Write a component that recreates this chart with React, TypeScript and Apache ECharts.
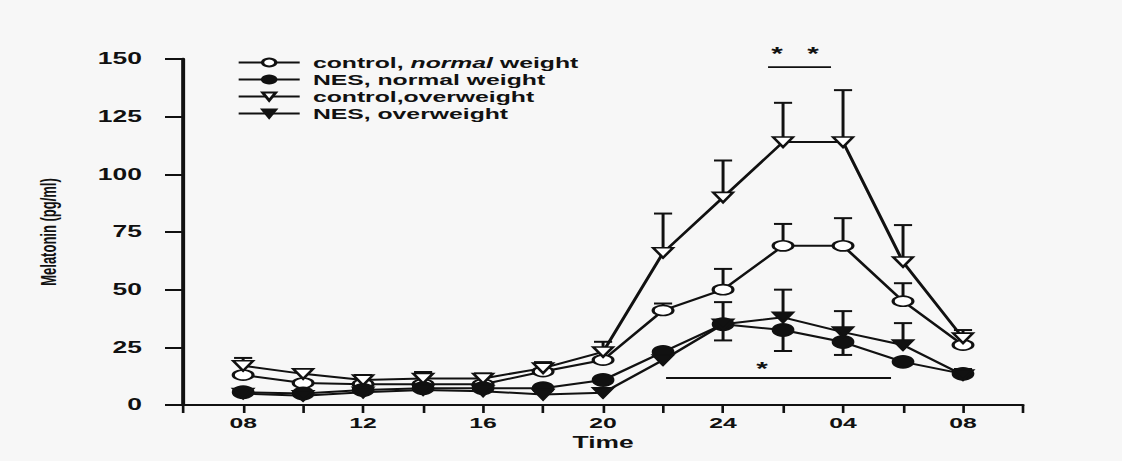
import React, { useEffect, useRef } from "react";
import * as echarts from "echarts";

// ---- data (hours: 8 = 08:00, 32 = 08:00 next day) ----
const hours = [8, 10, 12, 14, 16, 18, 20, 22, 24, 26, 28, 30, 32];
const seriesNames = [
  "control, normal weight",
  "NES, normal weight",
  "control,overweight",
  "NES, overweight",
];
const ctrlNormal = [13, 9.5, 9, 9, 9, 14.5, 19.5, 41, 50, 69, 69, 45, 26];
const nesNormal = [5.5, 5, 6.5, 7.3, 7.3, 7.3, 10.8, 23, 35, 32.5, 27.3, 18.7, 13.5];
const ctrlOver = [17, 13.5, 10.8, 11.5, 11.5, 16, 23, 66, 90, 114, 114, 62, 29];
const nesOver = [5, 4, 5.5, 6.5, 6, 4.5, 5.3, 19.5, 35, 38, 31.6, 26, 13];

// error bar ends (null = not visible)
const ctrlNormalErrTop = [null, null, null, null, null, null, null, 44, 59, 78.5, 81, 52.8, null];
const ctrlOverErrTop = [20.4, 15, 13, 14.3, 13.7, 18.6, 27.4, 83, 106, 131, 136.5, 78, 32.5];
const nesOverErrTop = [null, null, null, null, null, null, null, null, 44.6, 50, 40.7, 35.5, 15.6];
const nesNormalErrLow = [null, null, null, null, null, null, null, null, 28, 23.4, 21.7, null, null];

// significance annotations
const sigFrom = [25.5, 22.1];
const sigTo = [27.6, 29.6];
const sigY = [146.5, 11.7];
const starX = [25.8, 27.0, 25.3];
const starY = [156, 156, 19.5];

const yTicks = { min: 0, max: 150, interval: 25 };
const xTicks = { min: 6, max: 34, interval: 2 };
const labelledHours = [8, 12, 16, 20, 24, 28, 32];

// ---- layout ----
const S = 1.65;
const W = 1122;
const H = 461;
const UW = W / S;
const INK = "#111111";
const FONT = "'Liberation Sans', Arial, sans-serif";

function pair(vals: number[]) {
  return hours.map((h, i) => [h, vals[i]]);
}

function errData(means: number[], ends: (number | null)[]) {
  const out: number[][] = [];
  hours.forEach((h, i) => {
    const e = ends[i];
    if (e !== null && e !== undefined) out.push([h, means[i], e]);
  });
  return out;
}

const errRender = (params: any, api: any) => {
  const x = api.value(0);
  const p0 = api.coord([x, api.value(1)]);
  const p1 = api.coord([x, api.value(2)]);
  const hw = 5.5;
  return {
    type: "group",
    children: [
      { type: "line", shape: { x1: p0[0], y1: p0[1], x2: p1[0], y2: p1[1] }, style: { stroke: INK, lineWidth: 1.8 } },
      { type: "line", shape: { x1: p1[0] - hw, y1: p1[1], x2: p1[0] + hw, y2: p1[1] }, style: { stroke: INK, lineWidth: 2 } },
    ],
  };
};

function errSeries(means: number[], ends: (number | null)[]) {
  return {
    type: "custom",
    coordinateSystem: "cartesian2d",
    data: errData(means, ends),
    encode: { x: 0, y: [1, 2] },
    renderItem: errRender,
    z: 1,
    silent: true,
    clip: false,
  };
}

function lineSeries(name: string, vals: number[], symbol: string, size: number[], rotate: number, filled: boolean) {
  return {
    name,
    type: "line",
    data: pair(vals),
    symbol,
    symbolSize: size,
    symbolRotate: rotate,
    showAllSymbol: true,
    z: 3,
    lineStyle: { color: INK, width: 2 },
    itemStyle: { color: filled ? INK : "#ffffff", borderColor: INK, borderWidth: 1.8 },
  };
}

function buildOption() {
  return {
    animation: false,
    backgroundColor: "transparent",
    textStyle: { fontFamily: FONT },
    grid: { left: 111, right: UW - 1023 / S, top: 59, bottom: 56 },
    legend: {
      orient: "vertical",
      left: 237 / S,
      top: 55,
      padding: 0,
      itemWidth: 37,
      itemHeight: 10,
      itemGap: 2,
      data: seriesNames,
      formatter: (name: string) =>
        name === seriesNames[0] ? "{t|control, }{i|normal}{t| weight}" : "{t|" + name + "}",
      textStyle: {
        color: INK,
        padding: [0, 0, 0, 3],
        rich: {
          t: { fontFamily: FONT, fontWeight: "bold", fontSize: 15, lineHeight: 12, color: INK },
          i: { fontFamily: FONT, fontWeight: "bold", fontStyle: "italic", fontSize: 15, lineHeight: 12, color: INK },
        },
      },
    },
    xAxis: {
      type: "value",
      min: xTicks.min,
      max: xTicks.max,
      interval: xTicks.interval,
      name: "Time",
      nameLocation: "middle",
      nameGap: 26,
      nameTextStyle: { fontFamily: FONT, fontWeight: "bold", fontSize: 16, color: INK },
      splitLine: { show: false },
      axisLine: { lineStyle: { color: INK, width: 2 } },
      axisTick: { length: 8, lineStyle: { color: INK, width: 1.6 } },
      axisLabel: {
        margin: 10,
        fontFamily: FONT,
        fontWeight: "bold",
        fontSize: 15,
        color: INK,
        showMinLabel: true,
        showMaxLabel: true,
        formatter: (v: number) => {
          if (labelledHours.indexOf(v) < 0) return "";
          if (v === 24) return "24";
          const h = v % 24;
          return (h < 10 ? "0" : "") + h;
        },
      },
    },
    yAxis: {
      type: "value",
      min: yTicks.min,
      max: yTicks.max,
      interval: yTicks.interval,
      name: "Melatonin (pg/ml)",
      nameLocation: "middle",
      nameGap: 75,
      nameTextStyle: { fontFamily: FONT, fontWeight: "bold", fontSize: 13, color: INK },
      splitLine: { show: false },
      axisLine: { show: true, lineStyle: { color: INK, width: 2.4 } },
      axisTick: { show: true, length: 11, lineStyle: { color: INK, width: 2 } },
      axisLabel: { margin: 25, fontFamily: FONT, fontWeight: "bold", fontSize: 16, color: INK },
    },
    series: [
      lineSeries(seriesNames[0], ctrlNormal, "circle", [12, 10], 0, false),
      lineSeries(seriesNames[1], nesNormal, "circle", [12, 12], 0, true),
      lineSeries(seriesNames[2], ctrlOver, "triangle", [12, 10], 180, false),
      lineSeries(seriesNames[3], nesOver, "triangle", [12, 10], 180, true),
      errSeries(ctrlNormal, ctrlNormalErrTop),
      errSeries(ctrlOver, ctrlOverErrTop),
      errSeries(nesOver, nesOverErrTop),
      errSeries(nesNormal, nesNormalErrLow),
      {
        type: "custom",
        coordinateSystem: "cartesian2d",
        data: sigFrom.map((f, i) => [f, sigTo[i], sigY[i]]),
        encode: { x: [0, 1], y: 2 },
        clip: false,
        silent: true,
        renderItem: (params: any, api: any) => {
          const a = api.coord([api.value(0), api.value(2)]);
          const b = api.coord([api.value(1), api.value(2)]);
          return { type: "line", shape: { x1: a[0], y1: a[1], x2: b[0], y2: b[1] }, style: { stroke: INK, lineWidth: 1.8 } };
        },
      },
      {
        type: "custom",
        coordinateSystem: "cartesian2d",
        data: starX.map((x, i) => [x, starY[i]]),
        encode: { x: 0, y: 1 },
        clip: false,
        silent: true,
        renderItem: (params: any, api: any) => {
          const p = api.coord([api.value(0), api.value(1)]);
          return {
            type: "text",
            x: p[0],
            y: p[1],
            style: { text: "*", fontFamily: FONT, fontWeight: "bold", fontSize: 18, fill: INK, align: "center", verticalAlign: "top" },
          };
        },
      },
    ],
  };
}

export default function App() {
  const ref = useRef<HTMLDivElement>(null);
  useEffect(() => {
    if (!ref.current) return;
    const chart = echarts.init(ref.current, null, { renderer: "svg", width: UW, height: H });
    chart.setOption(buildOption() as any);
    return () => chart.dispose();
  }, []);
  return (
    <div
      style={{
        position: "absolute",
        left: 0,
        top: 0,
        width: W,
        height: H,
        overflow: "hidden",
        background: "#f7f7f7",
      }}
    >
      <div
        ref={ref}
        style={{ width: UW, height: H, transform: `scaleX(${S})`, transformOrigin: "0 0" }}
      />
    </div>
  );
}
